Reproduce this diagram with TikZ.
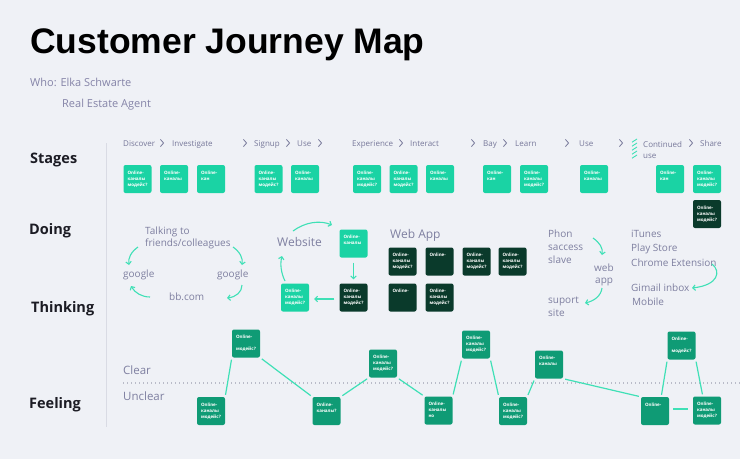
\documentclass[tikz,border=0pt]{standalone}
\usepackage{fontspec}
\setmainfont{Open Sans}
\newfontfamily\titlefont{Liberation Sans}
\usetikzlibrary{arrows.meta}
\definecolor{bg}{HTML}{EFF1F6}
\definecolor{tealb}{HTML}{1AD3A4}
\definecolor{darkg}{HTML}{0A3A2B}
\definecolor{feelg}{HTML}{0F9B75}
\definecolor{linec}{HTML}{3FE0B6}
\definecolor{lblc}{HTML}{7E7FA0}
\definecolor{hdrc}{HTML}{77789A}
\definecolor{whoc}{HTML}{8584A8}
\definecolor{sepc}{HTML}{D9DBE4}
\definecolor{dotc}{HTML}{B9BBC8}
\definecolor{headc}{HTML}{1C1C24}
\newcommand\bx[3]{\strut#1\\\strut#2\\\strut#3}
\newcommand\chevat[2]{\draw[chevline] (#1-1.6,#2-3.6) -- (#1+1.6,#2) -- (#1-1.6,#2+3.6);}
\tikzset{
  tbox/.style={rounded corners=2pt, fill=tealb, minimum width=28pt, minimum height=28pt,
    inner sep=0pt, text width=20pt, align=left, text=white,
    font=\bfseries\fontsize{4.5}{6}\selectfont},
  dbox/.style={tbox, fill=darkg},
  fbox/.style={tbox, fill=feelg},
  hdr/.style={anchor=base west, inner sep=0pt, text=hdrc, font=\fontsize{8}{9.6}\selectfont},
  lbl/.style={anchor=base west, inner sep=0pt, text=lblc, font=\fontsize{10}{12}\selectfont},
  biglbl/.style={anchor=base west, inner sep=0pt, text=lblc, font=\fontsize{12}{14}\selectfont},
  sect/.style={anchor=base west, inner sep=0pt, text=headc, font=\bfseries\fontsize{14.5}{17}\selectfont},
  who/.style={anchor=base west, inner sep=0pt, text=whoc, font=\fontsize{11}{13}\selectfont},
  chevline/.style={draw=hdrc, line width=0.8pt},
  arr/.style={draw=linec, line width=1.1pt, -{Straight Barb[length=2.6pt,width=5.5pt]}},
  fl/.style={draw=linec, line width=1.2pt, shorten <=2pt, shorten >=2pt}
}
\begin{document}
\begin{tikzpicture}[x=1pt,y=-1pt]
\path[fill=bg] (0,0) rectangle (740,459);
\useasboundingbox (0,0) rectangle (740,459);

% title
\node[anchor=base west, inner sep=0pt, text=black, font=\titlefont\bfseries\fontsize{35.5}{40}\selectfont] (title) at (30,53) {Customer Journey Map};
\node[who] (who) at (30,86) {Who: Elka Schwarte};
\node[who] (role) at (62,107) {Real Estate Agent};

% section labels
\node[sect] (stages) at (30,163) {Stages};
\node[sect] (doing) at (29,234) {Doing};
\node[sect] (thinking) at (31,312) {Thinking};
\node[sect] (feeling) at (29,408) {Feeling};
\draw[sepc, line width=0.8pt] (106,143) -- (106,427);

% stage header
\node[hdr] (h1) at (123,146) {Discover};
\chevat{162}{143}
\node[hdr] (h2) at (172,146) {Investigate};
\chevat{245}{143}
\node[hdr] (h3) at (254,146) {Signup};
\chevat{288}{143}
\node[hdr] (h4) at (297,146) {Use};
\chevat{320}{143}
\node[hdr] (h5) at (352,146) {Experience};
\chevat{401}{143}
\node[hdr] (h6) at (410,146) {Interact};
\chevat{473}{143}
\node[hdr] (h7) at (483,146) {Bay};
\chevat{505}{143}
\node[hdr] (h8) at (515,146) {Learn};
\chevat{567}{143}
\node[hdr] (h9) at (579,146) {Use};
\chevat{621}{143}
\foreach \yy in {139,143,147,151,155} {\draw[linec, line width=0.9pt] (632,\yy+3.2) -- (637,\yy);}
\node[hdr] (h10) at (643,147) {Continued};
\node[hdr] (h10b) at (643,158) {use};
\chevat{691}{143}
\node[hdr] (h11) at (700,146) {Share};

% stage boxes
\node[tbox] (s1) at (137.5,179) {\bx{Online-}{каналы}{модейс?}};
\node[tbox] (s2) at (174,179) {\bx{Online-}{каналы}{}};
\node[tbox] (s3) at (211,179) {\bx{Online-}{кан}{}};
\node[tbox] (s4) at (268.5,179) {\bx{Online-}{каналы}{модейс?}};
\node[tbox] (s5) at (305,179) {\bx{Online-}{каналы}{}};
\node[tbox] (s6) at (367,179) {\bx{Online-}{каналы}{модейс?}};
\node[tbox] (s7) at (403.5,179) {\bx{Online-}{каналы}{модейс?}};
\node[tbox] (s8) at (440,179) {\bx{Online-}{каналы}{}};
\node[tbox] (s9) at (497,179) {\bx{Online-}{кан}{}};
\node[tbox] (s10) at (534,179) {\bx{Online-}{каналы}{модейс?}};
\node[tbox] (s11) at (594,179) {\bx{Online-}{каналы}{}};
\node[tbox] (s12) at (670,179) {\bx{Online-}{кан}{}};
\node[tbox] (s13) at (707,179) {\bx{Online-}{каналы}{модейс?}};
\node[dbox] (s14) at (707,214) {\bx{Online-}{каналы}{модейс?}};

% doing / thinking: left cycle
\node[lbl] (talk) at (145,234.5) {Talking to};
\node[lbl] (friends) at (145,246.5) {friends/colleagues};
\node[lbl] (g1) at (123,277.5) {google};
\node[lbl] (g2) at (217,277.5) {google};
\node[lbl] (bb) at (169,300.5) {bb.com};
\coordinate (a1s) at (138,247); \coordinate (a1e) at (129,265);
\coordinate (a2s) at (233,247); \coordinate (a2e) at (242,265);
\coordinate (a3s) at (242,285); \coordinate (a3e) at (227,298);
\coordinate (a4s) at (150,297); \coordinate (a4e) at (131,286);
\draw[arr] (a1s) .. controls (131,252) and (128,258) .. (a1e);
\draw[arr] (a2s) .. controls (240,252) and (243,258) .. (a2e);
\draw[arr] (a3s) .. controls (242,292) and (236,297) .. (a3e);
\draw[arr] (a4s) .. controls (142,297) and (135,293) .. (a4e);

% website cycle
\node[biglbl] (web) at (277,246) {Website};
\node[tbox] (w1) at (353.5,243.5) {\bx{Online-}{каналы}{}};
\node[dbox] (w2) at (353.5,297.5) {\bx{Online-}{каналы}{модейс?}};
\node[tbox] (w3) at (295,297.5) {\bx{Online-}{каналы}{модейс?}};
\coordinate (b1s) at (293,231); \coordinate (b1e) at (332,225);
\draw[arr] (b1s) .. controls (305,222) and (320,220) .. (b1e);
\draw[arr, shorten <=5pt, shorten >=4pt] (w1) -- (w2);
\draw[arr, shorten <=5pt, shorten >=5pt] (w2.west |- 0,299) -- (w3.east |- 0,299);
\coordinate (b2s) at (285,281); \coordinate (b2e) at (282,256);
\draw[arr] (b2s) .. controls (281,273) and (280,264) .. (b2e);

% web app
\node[biglbl] (webapp) at (390,238) {Web App};
\node[dbox] (d1) at (402.5,261.5) {\bx{Online-}{каналы}{модейс?}};
\node[dbox] (d2) at (439.5,261.5) {\bx{Online-}{}{}};
\node[dbox] (d3) at (476.5,261.5) {\bx{Online-}{каналы}{модейс?}};
\node[dbox] (d4) at (512.5,261.5) {\bx{Online-}{каналы}{модейс?}};
\node[dbox] (d5) at (402.5,297.5) {\bx{Online-}{}{}};
\node[dbox] (d6) at (439.5,297.5) {\bx{Online-}{каналы}{модейс?}};

% phone / web app
\node[lbl] (phon) at (548,237) {Phon};
\node[lbl] (saccess) at (548,250) {saccess};
\node[lbl] (slave) at (548,263) {slave};
\node[lbl] (webw) at (594,271) {web};
\node[lbl] (appw) at (595,283) {app};
\node[lbl] (suport) at (548,303.5) {suport};
\node[lbl] (site) at (548,316) {site};
\coordinate (c1s) at (593,238); \coordinate (c1e) at (602,255);
\coordinate (c2s) at (602,288); \coordinate (c2e) at (585,303);
\draw[arr] (c1s) .. controls (600,243) and (603,248) .. (c1e);
\draw[arr] (c2s) .. controls (601,296) and (594,301) .. (c2e);

% channels
\node[lbl] (itunes) at (631,237) {iTunes};
\node[lbl] (play) at (631,251) {Play Store};
\node[lbl] (chrome) at (631,266) {Chrome Extension};
\node[lbl] (gimail) at (631,291) {Gimail inbox};
\node[lbl] (mobile) at (632,305) {Mobile};
\coordinate (e1s) at (712,264); \coordinate (e1e) at (692,288);
\draw[arr] (e1s) .. controls (721,271) and (719,285) .. (e1e);

% feeling
\node[biglbl, font=\fontsize{11.5}{14}\selectfont] (clear) at (123,374.5) {Clear};
\node[biglbl, font=\fontsize{11.5}{14}\selectfont] (unclear) at (123,400.5) {Unclear};
\draw[dotc, line width=1.1pt, dash pattern=on 1.1pt off 2.9pt] (123,383) -- (740,383);

\node[fbox] (f1) at (246,343.5) {\bx{Online-}{}{модейс?}};
\node[fbox] (f2) at (211,411) {\bx{Online-}{каналы}{модейс?}};
\node[fbox] (f3) at (326.5,411) {\bx{Online-}{каналы?}{}};
\node[fbox] (f4) at (383,363.5) {\bx{Online-}{каналы}{модейс?}};
\node[fbox] (f5) at (438.5,410.5) {\bx{Online-}{каналы}{но}};
\node[fbox] (f6) at (476,344.5) {\bx{Online-}{каналы}{модейс?}};
\node[fbox] (f7) at (513,411) {\bx{Online-}{каналы}{модейс?}};
\node[fbox] (f8) at (549,364.5) {\bx{Online-}{каналы}{}};
\node[fbox] (f9) at (655,411) {\bx{Online-}{}{}};
\node[fbox] (f10) at (681.5,345.5) {\bx{Online-}{}{модейс?}};
\node[fbox] (f11) at (707,410.5) {\bx{Online-}{каналы}{модейс?}};

\draw[fl] (f2.north east) -- (f1.south west);
\draw[fl] (f1.south east) -- (f3.north west);
\draw[fl] (f3.north east) -- (f4.south west);
\draw[fl] (f4.south east) -- (f5.north west);
\draw[fl] (f5.north east) -- (f6.south west);
\draw[fl] (f6.south east) -- (f7.north west);
\draw[fl] (f7.north east) -- (f8.south west);
\draw[fl] (f8.south east) -- (f9.north west);
\draw[fl] ([xshift=-8pt]f9.north east) -- (f10.south west);
\draw[fl] (f10.south east) -- ([xshift=10pt]f11.north west);
\draw[fl, shorten <=4pt, shorten >=5pt] (f9.east |- 0,409) -- (f11.west |- 0,409);
\end{tikzpicture}
\end{document}
